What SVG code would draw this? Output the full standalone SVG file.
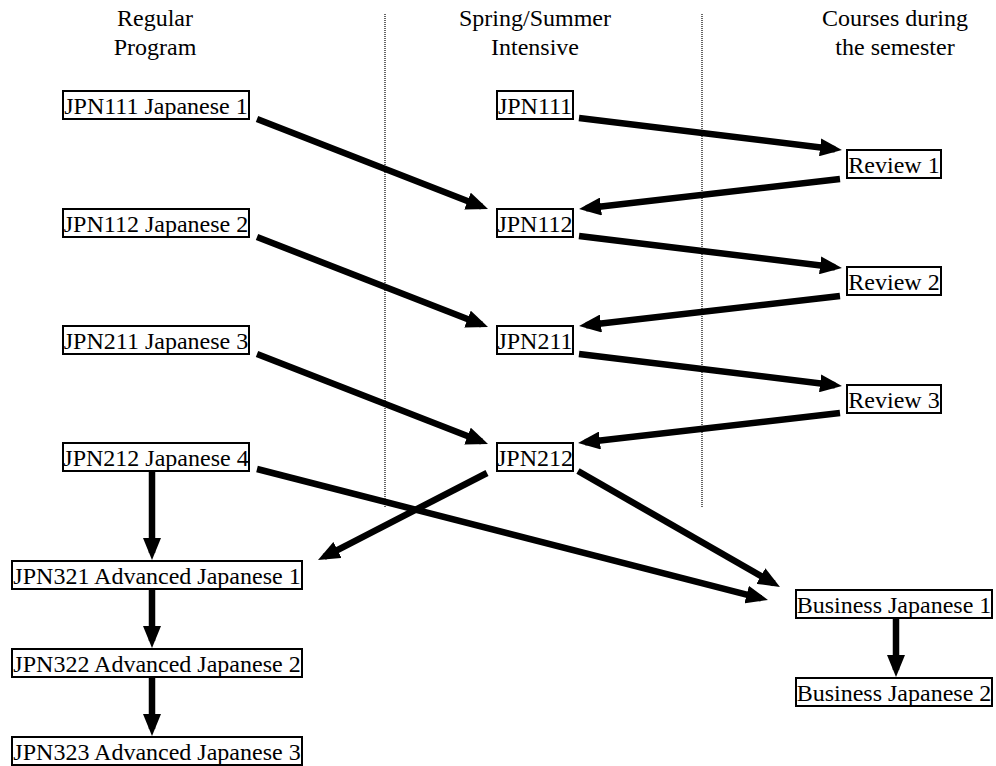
<svg xmlns="http://www.w3.org/2000/svg" width="996" height="766" viewBox="0 0 996 766">
<style>
text{font-family:"Liberation Serif","Times New Roman",serif;font-size:24px;fill:#000;text-anchor:middle}
.box{fill:#fff;stroke:#000;stroke-width:2}
.div{stroke:#000;stroke-width:1.2;stroke-dasharray:1 1;fill:none}
.ed{stroke:#000;stroke-width:6.5;fill:none;marker-end:url(#ah)}
</style>
<defs>
<marker id="ah" markerUnits="userSpaceOnUse" markerWidth="22" markerHeight="18" viewBox="0 0 22 18" refX="15" refY="9" orient="auto">
<path d="M0,0 L22,9 L0,18 z" fill="#000"/>
</marker>
</defs>
<rect width="996" height="766" fill="#fff"/>
<g id="headers">
<text x="155" y="26">Regular</text>
<text x="155" y="54.5">Program</text>
<text x="535" y="26">Spring/Summer</text>
<text x="535" y="54.5">Intensive</text>
<text x="895" y="26">Courses during</text>
<text x="895" y="54.5">the semester</text>
</g>
<g id="dividers">
<line class="div" x1="385" y1="14" x2="385" y2="508"/>
<line class="div" x1="702" y1="14" x2="702" y2="508"/>
</g>
<g id="connectors">
<line class="ed" x1="257" y1="119" x2="481.5" y2="206.5"/>
<line class="ed" x1="257" y1="237" x2="481.5" y2="324.5"/>
<line class="ed" x1="257" y1="354" x2="481.5" y2="441.5"/>
<line class="ed" x1="579" y1="118" x2="835" y2="149.2"/>
<line class="ed" x1="840" y1="179" x2="586" y2="208.2"/>
<line class="ed" x1="579" y1="236" x2="835" y2="267.2"/>
<line class="ed" x1="840" y1="296" x2="586" y2="325.2"/>
<line class="ed" x1="579" y1="354" x2="835" y2="385.2"/>
<line class="ed" x1="840" y1="413" x2="585" y2="442.2"/>
<line class="ed" x1="487" y1="473" x2="324.2" y2="556.8"/>
<line class="ed" x1="578" y1="471" x2="773.9" y2="583.5"/>
<line class="ed" x1="257" y1="469" x2="761.2" y2="598.3"/>
<line class="ed" x1="152" y1="472" x2="152" y2="553"/>
<line class="ed" x1="152" y1="590" x2="152" y2="641"/>
<line class="ed" x1="152" y1="678" x2="152" y2="729"/>
<line class="ed" x1="896" y1="619" x2="896" y2="670"/>
</g>
<g id="n_jpn111j1"><rect class="box" x="63" y="91" width="186" height="28"/><text x="156" y="114">JPN111 Japanese 1</text></g>
<g id="n_jpn112j2"><rect class="box" x="63" y="209" width="186" height="28"/><text x="156" y="232">JPN112 Japanese 2</text></g>
<g id="n_jpn211j3"><rect class="box" x="63" y="326" width="186" height="28"/><text x="156" y="349">JPN211 Japanese 3</text></g>
<g id="n_jpn212j4"><rect class="box" x="63" y="443" width="186" height="28"/><text x="156" y="466">JPN212 Japanese 4</text></g>
<g id="n_jpn111"><rect class="box" x="497" y="91" width="76" height="28"/><text x="535" y="114">JPN111</text></g>
<g id="n_jpn112"><rect class="box" x="497" y="209" width="76" height="28"/><text x="535" y="232">JPN112</text></g>
<g id="n_jpn211"><rect class="box" x="497" y="326" width="76" height="28"/><text x="535" y="349">JPN211</text></g>
<g id="n_jpn212"><rect class="box" x="497" y="443" width="76" height="28"/><text x="535" y="466">JPN212</text></g>
<g id="n_review1"><rect class="box" x="847" y="150" width="94" height="28"/><text x="894" y="173">Review 1</text></g>
<g id="n_review2"><rect class="box" x="847" y="267" width="94" height="28"/><text x="894" y="290">Review 2</text></g>
<g id="n_review3"><rect class="box" x="847" y="385" width="94" height="28"/><text x="894" y="408">Review 3</text></g>
<g id="n_jpn321"><rect class="box" x="12" y="561" width="290" height="28"/><text x="157" y="584">JPN321 Advanced Japanese 1</text></g>
<g id="n_jpn322"><rect class="box" x="12" y="649" width="290" height="28"/><text x="157" y="672">JPN322 Advanced Japanese 2</text></g>
<g id="n_jpn323"><rect class="box" x="12" y="737" width="290" height="28"/><text x="157" y="760">JPN323 Advanced Japanese 3</text></g>
<g id="n_bj1"><rect class="box" x="796" y="590" width="196" height="28"/><text x="894" y="613">Business Japanese 1</text></g>
<g id="n_bj2"><rect class="box" x="796" y="678" width="196" height="28"/><text x="894" y="701">Business Japanese 2</text></g>
</svg>
